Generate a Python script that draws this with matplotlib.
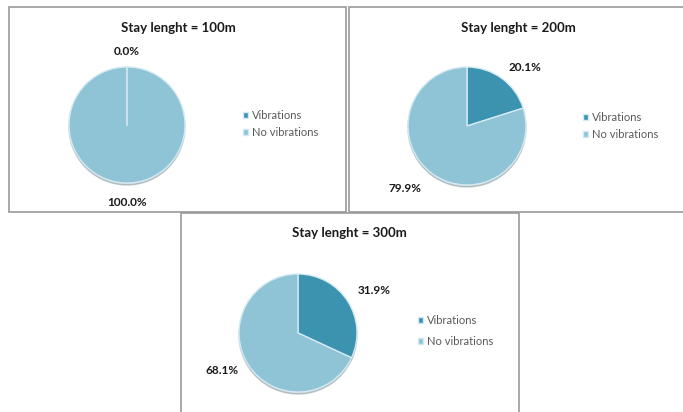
import matplotlib

matplotlib.use("Agg")
import matplotlib.pyplot as plt
import numpy as np
from matplotlib.patches import Rectangle

plt.rcParams["font.family"] = ["Lato", "DejaVu Sans"]

# data
titles = ["Stay lenght = 100m", "Stay lenght = 200m", "Stay lenght = 300m"]
categories = ["Vibrations", "No vibrations"]
vibrations = [0.0, 20.1, 31.9]
no_vibrations = [100.0, 79.9, 68.1]

COLORS = ["#3b93b0", "#8fc3d6"]
EDGE = "#d4eaf2"
W, H = 683, 412

# layout in pixels: panel box, pie centre + radius, title, legend, label spots
panels = [
    dict(box=(9, 7, 346, 212), pie=(127, 125, 58), title=(178, 28),
         legend=(243, 124), spacing=0.55, labels=[(90, 1.27), (-90, 1.33)]),
    dict(box=(349, 7, 690, 212), pie=(467, 126, 59), title=(518, 28),
         legend=(583, 126), spacing=0.6, labels=[(45, 1.40), (225, 1.49)]),
    dict(box=(181, 213, 519, 420), pie=(298, 333, 59), title=(349, 233),
         legend=(418, 331), spacing=0.95, labels=[(29, 1.47), (206, 1.44)]),
]


def fx(x):
    return x / W


def fy(y):
    return 1 - y / H


fig = plt.figure(figsize=(W / 100, H / 100), dpi=100)

for i, p in enumerate(panels):
    x0, y0, x1, y1 = p["box"]
    fig.patches.append(
        Rectangle((fx(x0), fy(y1)), fx(x1 - x0), (y1 - y0) / H,
                  transform=fig.transFigure, fill=False, ec="#9a9a9a", lw=1.2)
    )

    cx, cy, r = p["pie"]
    R = r * 1.7
    ax = fig.add_axes([fx(cx - R), fy(cy + R), 2 * R / W, 2 * R / H])
    vals = [vibrations[i], no_vibrations[i]]
    wedges, _ = ax.pie(
        vals,
        colors=COLORS,
        startangle=90,
        counterclock=False,
        radius=1,
        wedgeprops=dict(edgecolor=EDGE, linewidth=1.0),
        shadow=dict(ox=0.0, oy=-0.025, shade=0.45, alpha=0.3),
    )
    if vals[0] == 0:
        # zero slice still shows as a thin line in the original
        ax.plot([0, 0], [0, 1], color=EDGE, lw=1.2)
    ax.set_xlim(-1.7, 1.7)
    ax.set_ylim(-1.7, 1.7)
    ax.set_aspect("equal")
    ax.axis("off")

    for v, (ang, dist) in zip(vals, p["labels"]):
        t = np.deg2rad(ang)
        ax.text(dist * np.cos(t), dist * np.sin(t), f"{v:.1f}%",
                ha="center", va="center", fontsize=8.5, fontweight="bold",
                color="#1a1a1a")

    tx, ty = p["title"]
    fig.text(fx(tx), fy(ty), titles[i], ha="center", va="center",
             fontsize=9.5, fontweight="bold", color="#1a1a1a")

    lx, ly = p["legend"]
    fig.legend(
        wedges, categories,
        loc="center left",
        bbox_to_anchor=(fx(lx), fy(ly)),
        frameon=False,
        fontsize=8,
        labelcolor="#595959",
        handlelength=0.45,
        handleheight=0.45,
        handletextpad=0.35,
        labelspacing=p["spacing"],
        borderpad=0,
        borderaxespad=0,
    )

fig.savefig("out.png", dpi=100)
